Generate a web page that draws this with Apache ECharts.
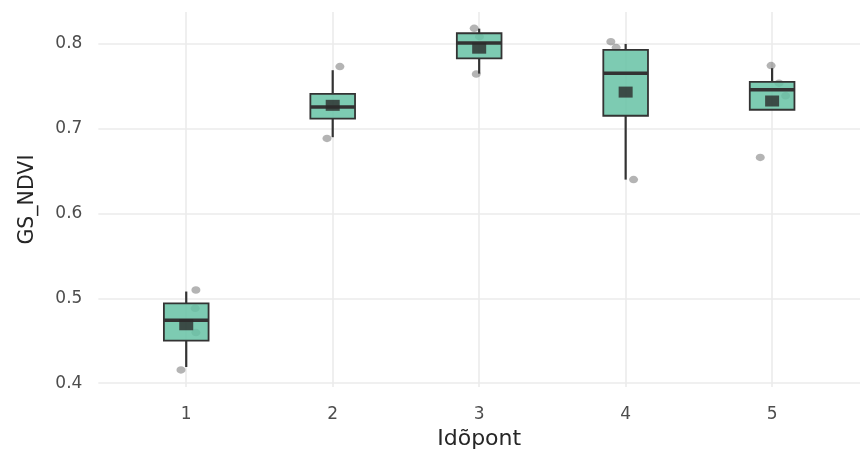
<!DOCTYPE html>
<html>
<head>
<meta charset="utf-8">
<script src="https://cdn.jsdelivr.net/npm/echarts@6/dist/echarts.min.js"></script>
<style>
  html, body { margin: 0; padding: 0; background: #ffffff; }
  #chart { width: 860px; height: 455px; }
</style>
</head>
<body>
<div id="chart"></div>
<script>
// ---- data ----
const categories = ['1', '2', '3', '4', '5'];
const positions = [1, 2, 3, 4, 5];
const whiskerLow  = [0.419, 0.690, 0.765, 0.640, 0.7224];
const q1          = [0.450, 0.712, 0.783, 0.7153, 0.7224];
const median      = [0.474, 0.7255, 0.801, 0.7655, 0.7459];
const q3          = [0.494, 0.741, 0.8126, 0.793, 0.7553];
const whiskerHigh = [0.508, 0.769, 0.818, 0.800, 0.7714];
const means       = [0.4688, 0.7276, 0.795, 0.7432, 0.7327];
const jitterX = [1.066, 0.964, 1.061, 1.066, 2.049, 1.961, 2.966, 2.980, 3.002, 3.899, 3.935, 4.054, 4.993, 4.919, 5.047, 5.092];
const jitterY = [0.5098, 0.4156, 0.4882, 0.4596, 0.7733, 0.6886, 0.8184, 0.7644, 0.8086, 0.8027, 0.7957, 0.640, 0.7745, 0.6662, 0.7537, 0.7388];
const yTicks = [0.4, 0.5, 0.6, 0.7, 0.8];
const xTitle = 'Idõpont';
const yTitle = 'GS_NDVI';

// ---- build series data ----
const boxData = positions.map((p, i) => [p, whiskerLow[i], q1[i], median[i], q3[i], whiskerHigh[i]]);
const meanData = positions.map((p, i) => [p, means[i]]);
const pointData = jitterX.map((x, i) => [x, jitterY[i]]);
const boxWidth = 0.305;
const ellipse = 'path://M0,-1A1,1,0,1,1,0,1A1,1,0,1,1,0,-1Z';

const chart = echarts.init(document.getElementById('chart'), null, { renderer: 'canvas' });
const option = {
  backgroundColor: '#ffffff',
  animation: false,
  grid: { left: 98.35, width: 768.3, top: 12, height: 376, containLabel: false },
  xAxis: {
    type: 'value', min: 0.4, max: 5.6,
    name: xTitle, nameLocation: 'middle', nameGap: 40,
    nameTextStyle: { fontFamily: 'DejaVu Sans', fontSize: 22, color: '#262626' },
    axisLine: { show: false },
    axisTick: { show: false, customValues: positions },
    axisLabel: {
      customValues: positions, margin: 19,
      fontFamily: 'DejaVu Sans', fontSize: 17, color: '#4d4d4d',
      formatter: v => categories[positions.indexOf(Math.round(v))] || ''
    },
    splitLine: { show: true, lineStyle: { color: '#ebebeb', width: 1.6 } }
  },
  yAxis: {
    type: 'value', min: 0.3953, max: 0.83765,
    name: yTitle, nameLocation: 'middle', nameGap: 60, nameRotate: 90,
    nameTextStyle: { fontFamily: 'DejaVu Sans', fontSize: 20.5, color: '#262626' },
    axisLine: { show: false },
    axisTick: { show: false, customValues: yTicks },
    axisLabel: {
      customValues: yTicks, margin: 16,
      fontFamily: 'DejaVu Sans', fontSize: 17, color: '#4d4d4d',
      formatter: v => v.toFixed(1)
    },
    splitLine: { show: true, lineStyle: { color: '#ebebeb', width: 1.6 } }
  },
  series: [
    {
      type: 'scatter', data: pointData, z: 2,
      symbol: ellipse, symbolSize: [9, 7.5],
      itemStyle: { color: 'rgba(60,60,60,0.48)' }
    },
    {
      type: 'custom', z: 3,
      data: boxData,
      encode: { x: 0, y: [1, 2, 3, 4, 5] },
      renderItem: function (params, api) {
        const x = api.value(0);
        const hw = api.size([boxWidth, 0])[0] / 2;
        const pLo = api.coord([x, api.value(1)]);
        const pQ1 = api.coord([x, api.value(2)]);
        const pMed = api.coord([x, api.value(3)]);
        const pQ3 = api.coord([x, api.value(4)]);
        const pHi = api.coord([x, api.value(5)]);
        const stroke = '#333333';
        return {
          type: 'group',
          children: [
            { type: 'line', shape: { x1: pLo[0], y1: pLo[1], x2: pQ1[0], y2: pQ1[1] }, style: { stroke: stroke, lineWidth: 2.2 } },
            { type: 'line', shape: { x1: pQ3[0], y1: pQ3[1], x2: pHi[0], y2: pHi[1] }, style: { stroke: stroke, lineWidth: 2.2 } },
            { type: 'rect', shape: { x: pQ1[0] - hw, y: pQ3[1], width: 2 * hw, height: pQ1[1] - pQ3[1] },
              style: { fill: 'rgba(102,194,165,0.85)', stroke: stroke, lineWidth: 1.8 } },
            { type: 'line', shape: { x1: pMed[0] - hw, y1: pMed[1], x2: pMed[0] + hw, y2: pMed[1] }, style: { stroke: stroke, lineWidth: 3.5 } }
          ]
        };
      }
    },
    {
      type: 'scatter', data: meanData, z: 4,
      symbol: 'rect', symbolSize: [14, 11],
      itemStyle: { color: '#2a2a2a' }
    }
  ]
};
chart.setOption(option);
</script>
</body>
</html>
